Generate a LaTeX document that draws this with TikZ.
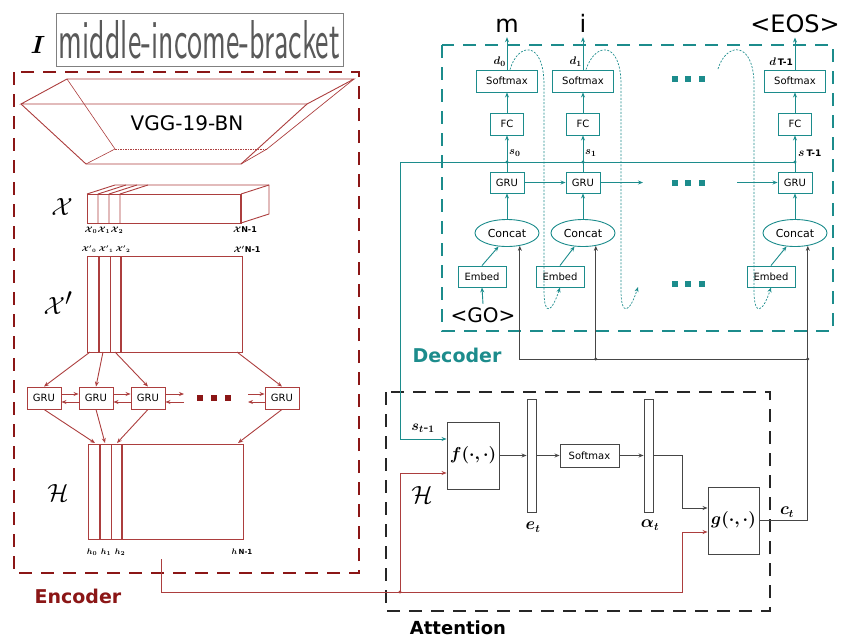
\documentclass[tikz,border=0pt]{standalone}
\usepackage{fontspec}
\setmainfont{DejaVu Sans}
\usepackage{bm}
\usetikzlibrary{shapes.geometric,arrows.meta}
\definecolor{enc}{RGB}{139,22,22}
\definecolor{encl}{RGB}{172,62,62}
\definecolor{dec}{RGB}{28,140,140}
\definecolor{blk}{RGB}{70,70,70}
\newcommand{\fs}[1]{\fontsize{#1}{#1}\selectfont}
\begin{document}
\begin{tikzpicture}[x=1pt,y=-1pt,
  encbox/.style={draw=enc,line width=2.2pt,dash pattern=on 13pt off 9pt},
  decbox/.style={draw=dec,line width=2pt,dash pattern=on 13pt off 9pt},
  attbox/.style={draw=black!85,line width=2pt,dash pattern=on 13pt off 9pt},
  eline/.style={draw=encl,line width=0.9pt},
  egru/.style={draw=encl,line width=0.9pt,minimum width=34pt,minimum height=22pt,inner sep=0,font=\fs{10}},
  dbx/.style={draw=dec,line width=0.9pt,fill=white,inner sep=0,font=\fs{10}},
  earrow/.style={-{Stealth[length=5pt,width=4pt]},draw=encl,line width=0.9pt},
  darrow/.style={-{Stealth[length=5pt,width=4pt]},draw=dec,line width=0.9pt},
  karrow/.style={-{Stealth[length=5pt,width=4pt]},draw=blk,line width=0.9pt},
  fbarrow/.style={-{Stealth[length=5pt,width=4pt]},draw=dec,line width=0.7pt,dash pattern=on 2pt off 1.5pt},
  edot/.style={fill=enc,minimum size=6pt,inner sep=0},
  ddot/.style={fill=dec,minimum size=6pt,inner sep=0},
  outlab/.style={font=\fs{24},inner sep=0,anchor=base},
  small/.style={font=\fs{8},inner sep=0},
  tiny/.style={font=\fs{7},inner sep=0}]
\useasboundingbox (0,0) rectangle (844,638);

% ---------------- input image ----------------
\node (Ilab) at (38,45) {\fs{24}$\bm{I}$};
\node[draw=gray,line width=0.8pt,minimum width=287pt,minimum height=53pt,inner sep=0] (img) at (199.5,39.5)
  {\color{black!65}\resizebox{281pt}{38pt}{\sffamily middle-income-bracket}};

% ---------------- encoder ----------------
\draw[encbox] (14,72) rectangle (359,573);
\node[text=enc,font=\fs{19}\bfseries] (enclab) at (78,596) {Encoder};

% VGG block
\draw[eline] (67,79) -- (354,79) -- (307,104) -- (21,104) -- cycle;
\draw[eline] (21,104) -- (86,164) -- (241,164) -- (307,104);
\draw[draw=encl,line width=0.6pt] (67,79) -- (115,149) -- (86,164);
\draw[draw=encl,line width=0.6pt,dash pattern=on 1.5pt off 1pt] (115,149) -- (267,149);
\draw[draw=encl,line width=0.7pt] (354,79) -- (267,149) -- (241,164);
\node[font=\fs{20}] (vgg) at (187,123) {VGG-19-BN};

% X block
\node[font=\fs{32}] (Xlab) at (62,207) {$\mathcal{X}$};
\draw[eline] (87,194) rectangle (241,223);
\draw[eline] (87,194) -- (115,185) -- (269,185) -- (269,214) -- (241,223);
\draw[eline] (241,194) -- (269,185);
\foreach \xx in {98,109,120}{
  \draw[eline] (\xx,223) -- (\xx,194) -- (\xx+28,185);}
\draw[draw=encl,line width=1.6pt] (241,194) -- (241,223);
\node[small] (x0) at (91,230) {$\bm{\mathcal{X}_0}$};
\node[small] (x1) at (104,230) {$\bm{\mathcal{X}_1}$};
\node[small] (x2) at (117,230) {$\bm{\mathcal{X}_2}$};
\node[small] (xn) at (245,230) {$\bm{\mathcal{X}}$\textbf{\fs{8}N-1}};

% X' block
\node[font=\fs{34}] (Xplab) at (58,303) {$\mathcal{X}'$};
\draw[eline] (87,256) rectangle (242,352);
\draw[draw=encl,line width=1.4pt] (99,256) -- (99,352);
\draw[eline] (110,256) -- (110,352);
\draw[draw=encl,line width=1.2pt] (121,256) -- (121,352);
\node[tiny] (xp0) at (89,249) {$\bm{\mathcal{X}'{}_0}$};
\node[tiny] (xp1) at (106,249) {$\bm{\mathcal{X}'{}_1}$};
\node[tiny] (xp2) at (123,249) {$\bm{\mathcal{X}'{}_2}$};
\node[small] (xpn) at (247,249) {$\bm{\mathcal{X}'}$\textbf{\fs{8}N-1}};
\coordinate (xb0) at (90,352);
\coordinate (xb1) at (103,352);
\coordinate (xb2) at (115,352);
\coordinate (xbn) at (237,352);

% GRU row
\node[egru] (g1) at (44,398) {GRU};
\node[egru] (g2) at (96,398) {GRU};
\node[egru] (g3) at (148,398) {GRU};
\node[egru] (g4) at (282,398) {GRU};
\draw[earrow] (xb0) -- (g1.north);
\draw[earrow] (xb1) -- (g2.north);
\draw[earrow] (xb2) -- (g3.north);
\draw[earrow] (xbn) -- (g4.north);
\draw[earrow] ([yshift=4pt]g1.east) -- ([yshift=4pt]g2.west);
\draw[earrow] ([yshift=-4pt]g2.west) -- ([yshift=-4pt]g1.east);
\draw[earrow] ([yshift=4pt]g2.east) -- ([yshift=4pt]g3.west);
\draw[earrow] ([yshift=-4pt]g3.west) -- ([yshift=-4pt]g2.east);
\coordinate (ga) at (184,394);
\coordinate (gb) at (184,402);
\coordinate (gc) at (248,394);
\coordinate (gd) at (248,402);
\draw[earrow] ([yshift=4pt]g3.east) -- (ga);
\draw[earrow] (gb) -- ([yshift=-4pt]g3.east);
\draw[earrow] (gc) -- ([yshift=4pt]g4.west);
\draw[earrow] ([yshift=-4pt]g4.west) -- (gd);
\node[edot] (ed1) at (200,398) {};
\node[edot] (ed2) at (214,398) {};
\node[edot] (ed3) at (228,398) {};

% H block
\coordinate (ht0) at (95,443);
\coordinate (ht1) at (105,443);
\coordinate (ht2) at (117,443);
\coordinate (htn) at (238,443);
\draw[earrow] (g1.south) -- (ht0);
\draw[earrow] (g2.south) -- (ht1);
\draw[earrow] (g3.south) -- (ht2);
\draw[earrow] (g4.south) -- (htn);
\node[font=\fs{40}] (Hlab) at (58,493) {$\mathcal{H}$};
\draw[eline] (88,444) rectangle (243,539);
\draw[draw=encl,line width=1.4pt] (100,444) -- (100,539);
\draw[eline] (111,444) -- (111,539);
\draw[draw=encl,line width=1.4pt] (122,444) -- (122,539);
\node[small] (h0) at (92,552) {$\bm{h_0}$};
\node[small] (h1) at (106,552) {$\bm{h_1}$};
\node[small] (h2) at (120,552) {$\bm{h_2}$};
\node[small] (hn) at (242,552) {$\bm{h}$\,\textbf{\fs{7}N-1}};
\coordinate (encout) at (161,559);

% ---------------- decoder ----------------
\draw[decbox] (442,45) rectangle (833,331);
\node[text=dec,font=\fs{19}\bfseries] (declab) at (457,355) {Decoder};

\foreach \i/\xx/\ex in {1/507/482,2/583/560,3/795/771}{
  \node[dbx,minimum width=61pt,minimum height=22pt] (sm\i) at (\xx,81) {Softmax};
  \node[dbx,minimum width=33pt,minimum height=22pt] (fc\i) at (\xx,124) {FC};
  \node[dbx,minimum width=34pt,minimum height=21pt] (gr\i) at (\xx,182.5) {GRU};
  \node[dbx,ellipse,minimum width=64pt,minimum height=27pt,font=\fs{11}] (c\i) at (\xx,233) {Concat};
  \node[dbx,minimum width=48pt,minimum height=21pt] (e\i) at (\ex,276.5) {Embed};
}
\node[outlab] (o1) at (507,32) {m};
\node[outlab] (o2) at (583,32) {i};
\node[outlab] (o3) at (795,32) {<EOS>};
\node[font=\fs{20}] (go) at (483,315) {<GO>};

\foreach \i in {1,2,3}{
  \draw[darrow,shorten >=5pt] (sm\i) -- (o\i);
  \draw[darrow] (fc\i) -- (sm\i);
  \draw[darrow] (gr\i) -- (fc\i);
  \draw[darrow] (c\i) -- (gr\i);
  \draw[darrow] (e\i.north) -- (c\i.-122);
}
\draw[darrow] (go.north) -- (e1.south);
\draw[darrow] (gr1) -- (gr2);
\coordinate (gre) at (643,182.5);
\coordinate (grs) at (737,182.5);
\draw[darrow] (gr2) -- (gre);
\draw[darrow] (grs) -- (gr3);

% labels d, s
\node[font=\fs{11},anchor=east,inner sep=0] (d0) at (506,62) {$\bm{d_0}$};
\node[font=\fs{11},anchor=east,inner sep=0] (d1) at (582,62) {$\bm{d_1}$};
\node[font=\fs{11},anchor=east,inner sep=0] (dn) at (793,62) {$\bm{d}$\,\textbf{\fs{9}T-1}};
\node[font=\fs{11},anchor=west,inner sep=0] (s0) at (509,153) {$\bm{s_0}$};
\node[font=\fs{11},anchor=west,inner sep=0] (s1) at (585,153) {$\bm{s_1}$};
\node[font=\fs{12},anchor=west,inner sep=0] (sn) at (798,153) {$\bm{s}$\,\textbf{\fs{9}T-1}};

% s line
\coordinate (sl) at (400,162);
\coordinate (sj1) at (507,162);
\coordinate (sj2) at (583,162);
\coordinate (sj3) at (795,162);
\draw[draw=dec,line width=0.9pt] (sl) -- (sj3);
\foreach \j in {sj1,sj2,sj3}{\fill[dec] (\j) circle (1.6pt);}

% dots
\foreach \yy/\r in {79/a,182.5/b,284/c}{
  \node[ddot] (dd1\r) at (675,\yy) {};
  \node[ddot] (dd2\r) at (688,\yy) {};
  \node[ddot] (dd3\r) at (702,\yy) {};
}

% feedback curves
\coordinate (fb2) at (638,287);
\coordinate (fb3s) at (718,69);
\draw[fbarrow] ([xshift=3pt]sm1.north) .. controls (518,42) and (544,40) .. (544,85) -- (544,290)
   .. controls (544,318) and (552,312) .. (e2.south);
\draw[fbarrow] ([xshift=3pt]sm2.north) .. controls (595,42) and (621,40) .. (621,85) -- (621,290)
   .. controls (621,318) and (630,312) .. (fb2);
\draw[fbarrow] (fb3s) .. controls (726,42) and (754,40) .. (754,85) -- (754,290)
   .. controls (754,318) and (763,312) .. (e3.south);

% ---------------- attention ----------------
\draw[attbox] (386,392) rectangle (770,611);
\node[font=\fs{18}\bfseries] (attlab) at (458,628) {Attention};

\node[draw=blk,line width=0.9pt,minimum width=52pt,minimum height=67pt,inner sep=0,font=\fs{18}] (f) at (473,455.5) {$\bm{f(\cdot,\cdot)}$};
\node[draw=blk,line width=0.9pt,minimum width=9pt,minimum height=113pt,inner sep=0] (ebar) at (531.5,455.5) {};
\node[draw=blk,line width=0.9pt,minimum width=59pt,minimum height=23pt,inner sep=0,font=\fs{10}] (asm) at (589.5,455.5) {Softmax};
\node[draw=blk,line width=0.9pt,minimum width=9pt,minimum height=113pt,inner sep=0] (abar) at (648.5,455.5) {};
\node[draw=blk,line width=0.9pt,minimum width=51pt,minimum height=67pt,inner sep=0,font=\fs{18}] (g) at (733.5,520.5) {$\bm{g(\cdot,\cdot)}$};
\node[font=\fs{16}] (et) at (533,527) {$\bm{e_t}$};
\node[font=\fs{16}] (at) at (650,525) {$\bm{\alpha_t}$};
\node[font=\fs{16}] (ct) at (787,512) {$\bm{c_t}$};
\node[font=\fs{14}] (stl) at (423,428) {$\bm{s_{t\mbox{-}1}}$};
\node[font=\fs{40}] (Hatt) at (422,495) {$\mathcal{H}$};

\draw[karrow] (f) -- (ebar);
\draw[karrow] (ebar) -- (asm);
\draw[karrow] (asm) -- (abar);
\coordinate (ak) at (682,455.5);
\draw[karrow] (abar.east) -- (ak) |- ([yshift=12.5pt]g.west);

% s_{t-1} into f
\draw[darrow] (sl) |- ([yshift=16.5pt]f.west);

% H into f and g
\coordinate (hj) at (400,592);
\coordinate (hk) at (682,592);
\draw[draw=encl,line width=0.9pt] (encout) |- (hj);
\draw[earrow] (hj) |- ([yshift=-17.5pt]f.west);
\draw[earrow] (hj) -- (hk) |- ([yshift=-11.5pt]g.west);
\fill[encl] (hj) circle (1.6pt);

% c_t to concats
\coordinate (bj3) at (c3.-45 |- 0,359);
\coordinate (bj2) at (c2.-45 |- 0,359);
\draw[karrow] (g.east) -| (c3.-45);
\draw[karrow] (bj3) -| (c1.-45);
\draw[karrow] (bj2) -- (c2.-45);
\fill[blk] (bj2) circle (1.6pt);
\fill[blk] (bj3) circle (1.6pt);
\end{tikzpicture}
\end{document}
